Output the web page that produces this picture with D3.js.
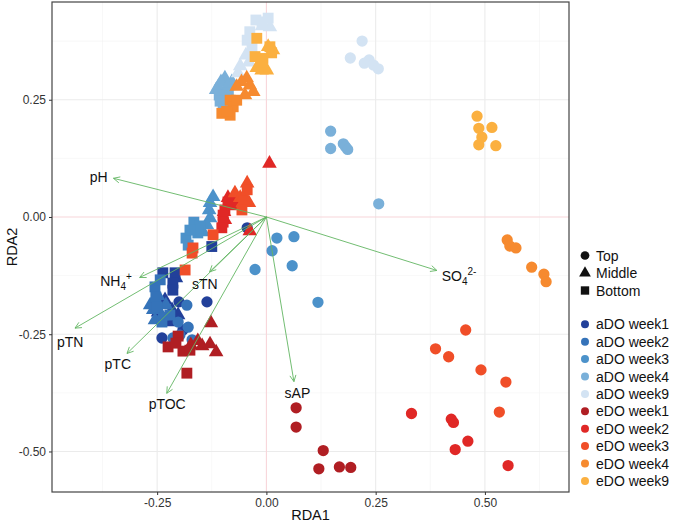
<!DOCTYPE html>
<html><head><meta charset="utf-8">
<script src="https://cdn.jsdelivr.net/npm/d3@7"></script>
<style>
body{margin:0;background:#fff;}
svg{display:block;font-family:"Liberation Sans",Arial,sans-serif;}
</style>
</head><body>
<svg id="chart" width="673" height="525"></svg>
<script>
// ---------------- DATA ----------------
const groupNames = ["aDO week1","aDO week2","aDO week3","aDO week4","aDO week9",
                    "eDO week1","eDO week2","eDO week3","eDO week4","eDO week9"];
const layerNames = ["Top","Middle","Bottom"];
const xTicks = [-0.25, 0, 0.25, 0.5];
const yTicks = [0.25, 0, -0.25, -0.5];

// [layer, RDA1, RDA2]
const aDO_week1 = [
  ["Top",-0.044,-0.023],["Top",-0.200,-0.181],["Top",-0.136,-0.181],["Top",-0.239,-0.258],["Top",-0.207,-0.215],["Top",-0.191,-0.241],
  ["Middle",-0.207,-0.130],["Middle",-0.232,-0.177],["Middle",-0.216,-0.198],["Middle",-0.248,-0.203],["Middle",-0.225,-0.224],["Middle",-0.202,-0.209],
  ["Bottom",-0.125,-0.063],["Bottom",-0.237,-0.119],["Bottom",-0.209,-0.119],["Bottom",-0.214,-0.141],["Bottom",-0.214,-0.156],["Bottom",-0.237,-0.215]
];
const aDO_week2 = [
  ["Top",-0.182,-0.188],["Top",-0.202,-0.224],["Top",-0.179,-0.235],["Top",-0.214,-0.258],["Top",-0.198,-0.252],["Top",-0.170,-0.262],
  ["Middle",-0.259,-0.198],["Middle",-0.239,-0.211],["Middle",-0.248,-0.168],["Middle",-0.230,-0.188],["Middle",-0.255,-0.220],["Middle",-0.266,-0.188],
  ["Bottom",-0.255,-0.149],["Bottom",-0.253,-0.171],["Bottom",-0.243,-0.134],["Bottom",-0.250,-0.192],["Bottom",-0.239,-0.224],["Bottom",-0.221,-0.209]
];
const aDO_week3 = [
  ["Top",0.024,-0.045],["Top",0.063,-0.042],["Top",0.013,-0.072],["Top",0.059,-0.104],["Top",-0.026,-0.112],["Top",0.118,-0.182],
  ["Middle",-0.122,0.043],["Middle",-0.129,0.030],["Middle",-0.131,0.015],["Middle",-0.129,-0.002],["Middle",-0.145,-0.032],["Middle",-0.136,-0.017],
  ["Bottom",-0.166,-0.011],["Bottom",-0.152,-0.019],["Bottom",-0.184,-0.045],["Bottom",-0.179,-0.060],["Bottom",-0.157,-0.034],["Bottom",-0.175,-0.028]
];
const aDO_week4 = [
  ["Top",0.147,0.183],["Top",0.147,0.146],["Top",0.176,0.156],["Top",0.181,0.150],["Top",0.186,0.144],["Top",0.257,0.028],
  ["Middle",-0.095,0.296],["Middle",-0.110,0.278],["Middle",-0.079,0.288],["Middle",-0.104,0.288],["Middle",-0.088,0.279],["Middle",-0.115,0.271],
  ["Bottom",-0.102,0.257],["Bottom",-0.099,0.242],["Bottom",-0.087,0.264],["Bottom",-0.108,0.260],["Bottom",-0.095,0.237],["Bottom",-0.106,0.247]
];
const aDO_week9 = [
  ["Top",0.219,0.375],["Top",0.192,0.339],["Top",0.224,0.328],["Top",0.235,0.335],["Top",0.245,0.324],["Top",0.256,0.316],
  ["Middle",0.008,0.405],["Middle",-0.010,0.407],["Middle",-0.047,0.345],["Middle",-0.060,0.322],["Middle",-0.065,0.307],["Middle",-0.040,0.330],
  ["Bottom",-0.024,0.420],["Bottom",-0.010,0.416],["Bottom",-0.038,0.395],["Bottom",-0.044,0.377],["Bottom",-0.033,0.360],["Bottom",0.004,0.424]
];
const eDO_week1 = [
  ["Top",0.068,-0.407],["Top",0.068,-0.448],["Top",0.130,-0.498],["Top",0.120,-0.537],["Top",0.167,-0.533],["Top",0.193,-0.534],
  ["Middle",-0.127,-0.226],["Middle",-0.147,-0.275],["Middle",-0.129,-0.271],["Middle",-0.115,-0.288],["Middle",-0.173,-0.273],["Middle",-0.157,-0.264],
  ["Bottom",-0.225,-0.277],["Bottom",-0.202,-0.254],["Bottom",-0.191,-0.286],["Bottom",-0.182,-0.333],["Bottom",-0.207,-0.269],["Bottom",-0.175,-0.284]
];
const eDO_week2 = [
  ["Top",0.332,-0.419],["Top",0.423,-0.431],["Top",0.428,-0.438],["Top",0.461,-0.478],["Top",0.432,-0.496],["Top",0.553,-0.530],
  ["Middle",0.007,0.114],["Middle",-0.038,-0.030],["Middle",-0.095,-0.006],["Middle",-0.088,0.041],["Middle",-0.072,0.036],["Middle",-0.097,0.011],
  ["Bottom",-0.088,0.032],["Bottom",-0.095,0.015],["Bottom",-0.099,0.004],["Bottom",-0.099,-0.011],["Bottom",-0.102,-0.023],["Bottom",-0.079,0.026]
];
const eDO_week3 = [
  ["Top",0.456,-0.241],["Top",0.387,-0.281],["Top",0.417,-0.298],["Top",0.491,-0.326],["Top",0.548,-0.352],["Top",0.533,-0.416],
  ["Middle",-0.072,0.051],["Middle",-0.044,0.072],["Middle",-0.054,0.030],["Middle",-0.040,0.030],["Middle",-0.060,0.041],["Middle",-0.051,0.045],
  ["Bottom",-0.044,0.058],["Bottom",-0.056,0.015],["Bottom",-0.122,-0.038],["Bottom",-0.168,-0.066],["Bottom",-0.170,-0.077],["Bottom",-0.186,-0.113]
];
const eDO_week4 = [
  ["Top",0.551,-0.049],["Top",0.557,-0.062],["Top",0.571,-0.066],["Top",0.607,-0.107],["Top",0.635,-0.122],["Top",0.640,-0.138],
  ["Middle",-0.045,0.296],["Middle",-0.038,0.281],["Middle",-0.057,0.288],["Middle",-0.030,0.267],["Middle",-0.068,0.278],["Middle",-0.049,0.260],
  ["Bottom",-0.083,0.249],["Bottom",-0.076,0.235],["Bottom",-0.102,0.221],["Bottom",-0.083,0.217],["Bottom",-0.091,0.225],["Bottom",-0.068,0.249]
];
const eDO_week9 = [
  ["Top",0.482,0.215],["Top",0.486,0.189],["Top",0.516,0.191],["Top",0.493,0.170],["Top",0.486,0.154],["Top",0.525,0.152],
  ["Middle",-0.019,0.320],["Middle",0.001,0.313],["Middle",0.004,0.363],["Middle",0.015,0.356],["Middle",-0.011,0.313],["Middle",-0.022,0.318],
  ["Bottom",-0.022,0.381],["Bottom",0.008,0.363],["Bottom",0.012,0.350],["Bottom",-0.026,0.342],["Bottom",-0.008,0.338],["Bottom",-0.011,0.331]
];
const groupPoints = [aDO_week1,aDO_week2,aDO_week3,aDO_week4,aDO_week9,
                     eDO_week1,eDO_week2,eDO_week3,eDO_week4,eDO_week9];

// environmental vectors
const envNames = ["pH","SO4","sAP","pTN","NH4","sTN","pTC","pTOC"];
const envX = [-0.350, 0.390, 0.063, -0.438, -0.290, -0.130, -0.319, -0.228];
const envY = [0.0825, -0.114, -0.351, -0.237, -0.129, -0.117, -0.291, -0.376];
const envLabelX = [-0.384, 0.441, 0.071, -0.449, -0.344, -0.141, -0.340, -0.227];
const envLabelY = [0.084, -0.126, -0.376, -0.266, -0.136, -0.143, -0.313, -0.399];

// palette
const palette = ["#22409A","#3573B9","#4C92CA","#7AB0D9","#D3E3F3",
                 "#B01E23","#E02826","#F04E28","#F68A2F","#FBB040"];

// ---------------- CHART ----------------
const svg = d3.select("#chart");
const P = {l:52, r:569, t:2, b:492};
const x = d3.scaleLinear().domain([-0.4906, 0.6924]).range([P.l, P.r]);
const y = d3.scaleLinear().domain([-0.5864, 0.4584]).range([P.b, P.t]);

svg.append("rect").attr("width",673).attr("height",525).attr("fill","#fff");

const grid = svg.append("g");
const minorX = [-0.375,-0.125,0.125,0.375,0.625];
const minorY = [0.375,0.125,-0.125,-0.375];
grid.selectAll(".mx").data(minorX).enter().append("line")
  .attr("x1",d=>x(d)).attr("x2",d=>x(d)).attr("y1",P.t).attr("y2",P.b)
  .attr("stroke","#F3F3F3").attr("stroke-width",0.6);
grid.selectAll(".my").data(minorY).enter().append("line")
  .attr("y1",d=>y(d)).attr("y2",d=>y(d)).attr("x1",P.l).attr("x2",P.r)
  .attr("stroke","#F3F3F3").attr("stroke-width",0.6);
grid.selectAll(".gx").data(xTicks.filter(d=>d!==0)).enter().append("line")
  .attr("x1",d=>x(d)).attr("x2",d=>x(d)).attr("y1",P.t).attr("y2",P.b)
  .attr("stroke","#EBEBEB").attr("stroke-width",1.1);
grid.selectAll(".gy").data(yTicks.filter(d=>d!==0)).enter().append("line")
  .attr("y1",d=>y(d)).attr("y2",d=>y(d)).attr("x1",P.l).attr("x2",P.r)
  .attr("stroke","#EBEBEB").attr("stroke-width",1.1);
// zero lines
grid.append("line").attr("x1",x(0)).attr("x2",x(0)).attr("y1",P.t).attr("y2",P.b)
  .attr("stroke","#F8D6DA").attr("stroke-width",1.1);
grid.append("line").attr("y1",y(0)).attr("y2",y(0)).attr("x1",P.l).attr("x2",P.r)
  .attr("stroke","#F8D6DA").attr("stroke-width",1.1);

// points
const symType = {Top:d3.symbolCircle, Middle:d3.symbolTriangle, Bottom:d3.symbolSquare};
const symSize = {Top:100, Middle:92, Bottom:118};
const pts = svg.append("g");
groupPoints.forEach((arr,gi)=>{
  pts.selectAll(null).data(arr).enter().append("path")
    .attr("d",d=>d3.symbol().type(symType[d[0]]).size(symSize[d[0]])())
    .attr("transform",d=>`translate(${x(d[1])},${y(d[2])})`)
    .attr("fill",palette[gi]);
});

// arrows
const arrowG = svg.append("g");
const green = "#62B562";
envNames.forEach((n,i)=>{
  const x0=x(0), y0=y(0), x1=x(envX[i]), y1=y(envY[i]);
  arrowG.append("line").attr("x1",x0).attr("y1",y0).attr("x2",x1).attr("y2",y1)
    .attr("stroke",green).attr("stroke-width",0.9);
  const ang = Math.atan2(y1-y0, x1-x0);
  const L = 7, a = Math.PI/7;
  const p1 = [x1 - L*Math.cos(ang-a), y1 - L*Math.sin(ang-a)];
  const p2 = [x1 - L*Math.cos(ang+a), y1 - L*Math.sin(ang+a)];
  arrowG.append("path").attr("d",`M${p1}L${x1},${y1}L${p2}`)
    .attr("fill","none").attr("stroke",green).attr("stroke-width",0.9);
});

// labels
const labG = svg.append("g").attr("font-size",14).attr("fill","#111");
envNames.forEach((n,i)=>{
  const t = labG.append("text").attr("x",x(envLabelX[i])).attr("y",y(envLabelY[i]))
    .attr("dy","0.35em").attr("text-anchor","middle");
  if(n==="NH4"){
    t.append("tspan").text("NH");
    t.append("tspan").attr("font-size",10).attr("dy",4).text("4");
    t.append("tspan").attr("font-size",10).attr("dy",-10).text("+");
  } else if(n==="SO4"){
    t.append("tspan").text("SO");
    t.append("tspan").attr("font-size",10).attr("dy",4).text("4");
    t.append("tspan").attr("font-size",10).attr("dy",-10).text("2-");
  } else {
    t.text(n);
  }
});

// panel border
svg.append("rect").attr("x",P.l).attr("y",P.t).attr("width",P.r-P.l).attr("height",P.b-P.t)
  .attr("fill","none").attr("stroke","#444").attr("stroke-width",1.2);

// axes
const fmt = d => d3.format(".2f")(d).replace("\u2212","-");
const xAxis = svg.append("g").attr("transform",`translate(0,${P.b})`)
  .call(d3.axisBottom(x).tickValues(xTicks).tickFormat(fmt).tickSize(3).tickPadding(3));
const yAxis = svg.append("g").attr("transform",`translate(${P.l},0)`)
  .call(d3.axisLeft(y).tickValues(yTicks).tickFormat(fmt).tickSize(3).tickPadding(3));
[xAxis,yAxis].forEach(g=>{
  g.select(".domain").remove();
  g.selectAll(".tick line").attr("stroke","#333");
  g.selectAll(".tick text").attr("fill","#333").attr("font-size",12)
    .attr("font-family","'Liberation Sans',Arial,sans-serif");
});

svg.append("text").attr("x",(P.l+P.r)/2).attr("y",520).attr("text-anchor","middle")
  .attr("font-size",14.5).attr("fill","#111").text("RDA1");
svg.append("text").attr("transform",`translate(17,${(P.t+P.b)/2}) rotate(-90)`)
  .attr("text-anchor","middle").attr("font-size",14.5).attr("fill","#111").text("RDA2");

// legend: shapes
const lg = svg.append("g");
const shapeY = [255.5, 273, 290.5];
layerNames.forEach((n,i)=>{
  lg.append("path").attr("d",d3.symbol().type(symType[n]).size(i===0?60:(i===1?60:70))())
    .attr("transform",`translate(585,${shapeY[i]})`).attr("fill","#111");
  lg.append("text").attr("x",596).attr("y",shapeY[i]).attr("dy","0.36em")
    .attr("font-size",14).attr("fill","#111").text(n);
});
// legend: colours
groupNames.forEach((n,i)=>{
  const yy = 324.3 + i*17.4;
  lg.append("circle").attr("cx",585).attr("cy",yy).attr("r",4).attr("fill",palette[i]);
  lg.append("text").attr("x",596).attr("y",yy).attr("dy","0.36em")
    .attr("font-size",14).attr("fill","#111").text(n);
});
</script>
</body></html>
